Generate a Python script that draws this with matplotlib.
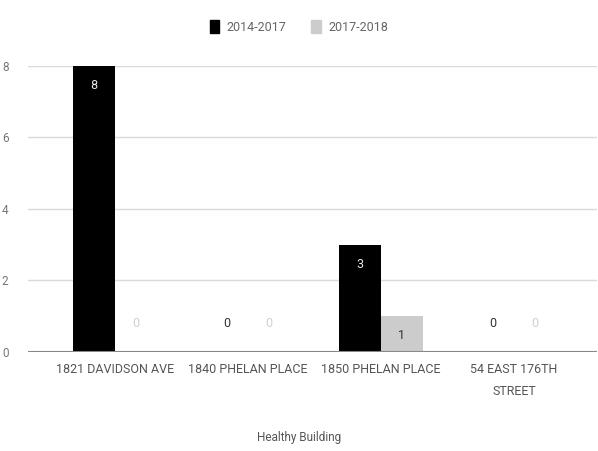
import matplotlib
matplotlib.use("Agg")
import matplotlib.pyplot as plt
import numpy as np

categories = ["1821 DAVIDSON AVE", "1840 PHELAN PLACE", "1850 PHELAN PLACE", "54 EAST 176TH\nSTREET"]
series_names = ["2014-2017", "2017-2018"]
values_2014_2017 = [8, 0, 3, 0]
values_2017_2018 = [0, 0, 1, 0]
y_ticks = [0, 2, 4, 6, 8]
x_title = "Healthy Building"

colors = ["#000000", "#cccccc"]
label_colors_inside = ["#e8e8e8", "#333333"]
label_colors_zero = ["#333333", "#d0d0d0"]

plt.rcParams["font.family"] = ["Roboto", "DejaVu Sans"]

fig = plt.figure(figsize=(5.98, 4.51), dpi=100)
ax = fig.add_axes([0.0468, 0.2195, 0.9515, 0.6342])

x = np.arange(len(categories))
w = 0.316
offsets = [-w / 2, w / 2]
for vals, off, col, lin, lzero in zip([values_2014_2017, values_2017_2018], offsets,
                                      colors, label_colors_inside, label_colors_zero):
    ax.bar(x + off, vals, width=w, color=col, zorder=3)
    for xi, v in zip(x + off, vals):
        if v > 0:
            ax.text(xi, v - 0.55, str(v), ha="center", va="center",
                    fontsize=9, color=lin, zorder=4)
        else:
            ax.text(xi, 0.8, str(v), ha="center", va="center",
                    fontsize=9, color=lzero, zorder=4)

ax.set_xlim(-0.654, 3.624)
ax.set_ylim(0, 8)
ax.set_yticks(y_ticks)
ax.set_xticks(x)
ax.set_xticklabels(categories, fontsize=9, color="#555555", linespacing=1.9)
ax.tick_params(axis="y", labelsize=8.5, labelcolor="#777777", length=0, pad=14)
ax.tick_params(axis="x", length=0, pad=8)
ax.grid(axis="y", color="#d9d9d9", linewidth=1, zorder=0)
ax.axhline(0, color="#888888", linewidth=1.5, zorder=5)
for s in ax.spines.values():
    s.set_visible(False)

# axis title placed below the two-line category labels
fig.text(0.5, 0.031, x_title, ha="center", va="center", fontsize=8.5, color="#555555")

handles = [plt.Rectangle((0, 0), 1, 1, color=c) for c in colors]
fig.legend(handles, series_names, loc="center", bbox_to_anchor=(0.5, 0.94), ncol=2,
           frameon=False, fontsize=9, labelcolor="#666666", handlelength=0.75,
           handleheight=1.2, columnspacing=2.0, handletextpad=0.6)

fig.savefig("out.png", dpi=100, facecolor="white")
